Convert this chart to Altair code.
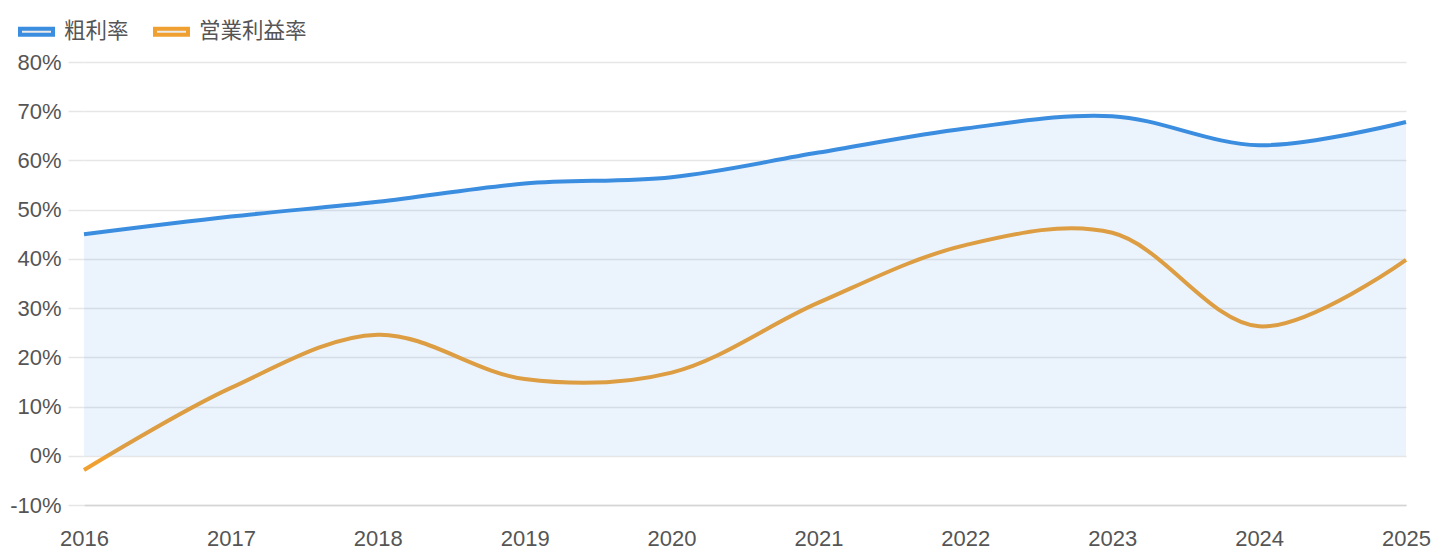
import altair as alt
import pandas as pd

years = [2016, 2017, 2018, 2019, 2020, 2021, 2022, 2023, 2024, 2025]
gross_margin = [45.0, 48.6, 51.6, 55.3, 56.6, 61.6, 66.5, 69.0, 63.1, 67.8]
op_margin = [-2.9, 13.8, 24.6, 15.6, 16.9, 31.1, 42.8, 45.3, 26.3, 39.8]
series_names = ["粗利率", "営業利益率"]
series_colors = ["#3b8de0", "#f0a030"]
y_ticks = [-10, 0, 10, 20, 30, 40, 50, 60, 70, 80]

df = pd.DataFrame({
    "year": years * 2,
    "value": gross_margin + op_margin,
    "series": [series_names[0]] * len(years) + [series_names[1]] * len(years),
})
gross_df = pd.DataFrame({"year": years, "value": gross_margin})

FONT = "Liberation Sans, Noto Sans CJK JP, sans-serif"
GRID = "#e6e6e6"
TXT = "#555555"
INTERP = dict(interpolate="catmull-rom")

x_enc = alt.X("year:Q", scale=alt.Scale(domain=[2016, 2025], nice=False),
              axis=alt.Axis(values=years, format="d", title=None, grid=False,
                            ticks=False, tickSize=0, labelPadding=23,
                            domain=True, domainColor="#d4d4d4", domainWidth=1.5,
                            labelFont=FONT, labelFontSize=22, labelColor=TXT,
                            labelFlush=False))
y_scale = alt.Scale(domain=[-10, 80], nice=False)
y_axis = alt.Axis(values=y_ticks, labelExpr="datum.value + '%'", title=None,
                  grid=True, gridColor=GRID, gridWidth=1.5, domain=False,
                  ticks=True, tickSize=16, tickColor=GRID, tickWidth=1.5,
                  labelPadding=7, labelFont=FONT, labelFontSize=22, labelColor=TXT)

color_enc = alt.Color("series:N", scale=alt.Scale(domain=series_names, range=series_colors),
                      legend=alt.Legend(title=None, orient="none", direction="horizontal",
                                        legendX=-66, legendY=-49, padding=0,
                                        symbolType="M-1,-0.182H1V0.182H-1Z", symbolSize=1089,
                                        symbolStrokeWidth=4, symbolFillColor="#ebebeb",
                                        labelFont=FONT, labelFontSize=21.5, labelColor=TXT,
                                        labelOffset=9, columnPadding=18))

orange_line = alt.Chart(df).transform_filter(
    alt.datum.series == series_names[1]
).mark_line(strokeWidth=4, **INTERP).encode(
    x=x_enc, y=alt.Y("value:Q", scale=y_scale, axis=y_axis), color=color_enc
)

blue_area = alt.Chart(gross_df).mark_area(color=series_colors[0], opacity=0.1, **INTERP).encode(
    x=alt.X("year:Q"), y=alt.Y("value:Q"), y2=alt.datum(0)
)

blue_line = alt.Chart(df).transform_filter(
    alt.datum.series == series_names[0]
).mark_line(strokeWidth=4, **INTERP).encode(
    x=alt.X("year:Q"), y=alt.Y("value:Q"), color=color_enc
)

chart = alt.layer(orange_line, blue_area, blue_line).properties(
    width=1322, height=443,
    autosize=alt.AutoSizeParams(type="none"),
    padding={"left": 84, "top": 62, "right": 34, "bottom": 55},
).configure_view(stroke=None)

chart.save("out.html", embed_options={"renderer": "svg", "actions": False})
